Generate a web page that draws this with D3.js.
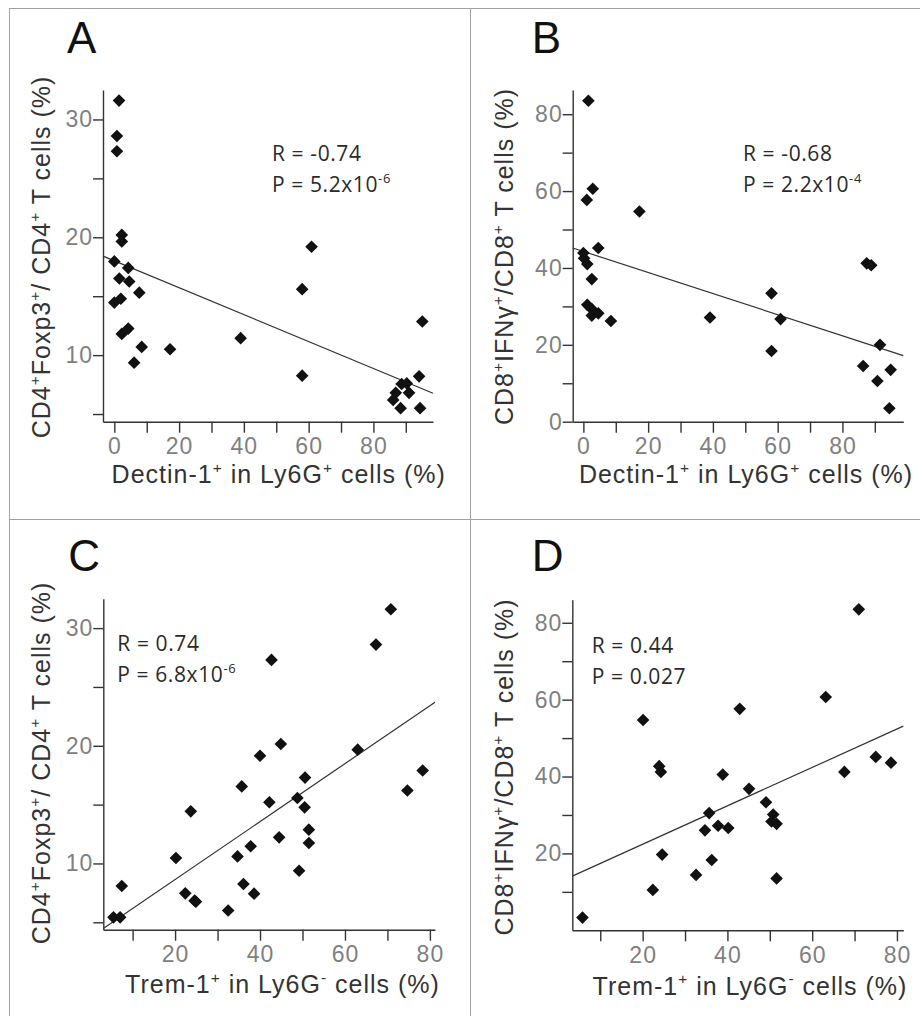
<!DOCTYPE html>
<html>
<head>
<meta charset="utf-8">
<script src="https://cdn.jsdelivr.net/npm/d3@7"></script>
<style>
body { margin: 0; background: #fff; }
svg { display: block; }
</style>
</head>
<body>
<svg width="920" height="1016"></svg>
<script>
// A: Dectin-1+ in Ly6G+ vs Treg
const dectinA = [1.45, 0.8, 0.8, 2.3, 2.3, 0, 4.3, 1.55, 4.6, 7.7, 0, 2.0, 2.3, 4.3, 8.45, 6.1, 17.2, 39.0, 58.0, 60.9, 58.0, 95.1, 94.1, 91.0, 88.7, 90.3, 86.9, 86.1, 88.4, 94.4];
const tregA   = [31.6, 28.6, 27.3, 20.2, 19.65, 17.95, 17.4, 16.5, 16.25, 15.3, 14.46, 14.78, 11.8, 12.25, 10.7, 9.36, 10.5, 11.44, 15.6, 19.2, 8.26, 12.85, 8.2, 6.8, 7.55, 7.6, 6.8, 6.2, 5.5, 5.5];

// B: Dectin-1+ in Ly6G+ vs IFNg+ CD8
const dectinB = [1.55, 2.9, 1.05, 17.3, 4.6, 0, 0.2, 1.2, 2.6, 1.2, 2.6, 2.6, 4.6, 8.5, 39.1, 58.1, 60.9, 58.1, 87.5, 88.9, 91.6, 86.4, 90.8, 94.9, 94.5];
const ifngB   = [83.5, 60.6, 57.7, 54.7, 45.2, 43.9, 42.5, 41.0, 37.1, 30.4, 29.3, 27.6, 28.2, 26.2, 27.1, 33.4, 26.7, 18.4, 41.2, 40.7, 20.0, 14.5, 10.6, 13.5, 3.5];

// C: Trem-1+ in Ly6G- vs Treg
const tremC = [70.8, 67.3, 42.7, 44.9, 63.0, 40.0, 78.3, 74.7, 50.6, 35.7, 42.2, 48.8, 50.5, 23.7, 51.5, 51.5, 44.5, 37.8, 34.7, 20.2, 49.2, 7.45, 36.1, 38.6, 22.4, 24.6, 24.9, 32.5, 5.5, 7.06];
const tregC = [31.6, 28.6, 27.3, 20.15, 19.67, 19.15, 17.9, 16.2, 17.3, 16.55, 15.2, 15.56, 14.77, 14.43, 12.87, 11.74, 12.22, 11.46, 10.6, 10.46, 9.38, 8.08, 8.25, 7.43, 7.46, 6.84, 6.75, 6.0, 5.42, 5.42];

// D: Trem-1+ in Ly6G- vs IFNg+ CD8
const tremD = [71.0, 63.2, 42.9, 20.1, 75.0, 78.6, 23.9, 24.3, 67.6, 38.9, 45.1, 49.1, 50.8, 50.4, 51.6, 35.7, 34.7, 37.8, 40.2, 24.6, 36.3, 32.6, 51.6, 22.4, 5.8];
const ifngD = [83.5, 60.7, 57.6, 54.7, 45.1, 43.6, 42.7, 41.2, 41.2, 40.5, 36.8, 33.3, 30.1, 28.3, 27.7, 30.5, 26.0, 27.2, 26.6, 19.7, 18.3, 14.4, 13.5, 10.5, 3.3];

// regression lines, [intercept, slope]
const fitA = [18.0, -0.1142];
const fitB = [44.3, -0.2742];
const fitC = [3.70, 0.2464];
const fitD = [12.4, 0.4994];

const letters = ["A", "B", "C", "D"];
const rText = ["R = -0.74", "R = -0.68", "R = 0.74", "R = 0.44"];
const pBase = ["P = 5.2x10", "P = 2.2x10", "P = 6.8x10", "P = 0.027"];
const pExp  = ["-6", "-4", "-6", ""];

const ticksX1 = [0, 10, 20, 30, 40, 50, 60, 70, 80, 90];
const ticksX2 = [10, 20, 30, 40, 50, 60, 70, 80];
const ticksTreg = [5, 10, 15, 20, 25, 30];
const ticksIfngB = [0, 10, 20, 30, 40, 50, 60, 70, 80];
const ticksIfngD = [10, 20, 30, 40, 50, 60, 70, 80];

const titleTreg = [["CD4"], ["+", 1], ["Foxp3"], ["+", 1], ["/ CD4"], ["+", 1], [" T cells (%)"]];
const titleIfng = [["CD8"], ["+", 1], ["IFNγ"], ["+", 1], ["/CD8"], ["+", 1], [" T cells (%)"]];
const titleDectin = [["Dectin-1"], ["+", 1], [" in Ly6G"], ["+", 1], [" cells (%)"]];
const titleTrem = [["Trem-1"], ["+", 1], [" in Ly6G"], ["-", 1], [" cells (%)"]];

const svg = d3.select("svg");
const axisFont = "Liberation Sans, Arial, sans-serif";

// frame
svg.append("rect").attr("x", 9.5).attr("y", 8.5).attr("width", 1000).attr("height", 1100)
    .attr("fill", "none").attr("stroke", "#a0a0a0");
svg.append("line").attr("x1", 470.5).attr("x2", 470.5).attr("y1", 8.5).attr("y2", 1016)
    .attr("stroke", "#a0a0a0");
svg.append("line").attr("x1", 9.5).attr("x2", 920).attr("y1", 519.5).attr("y2", 519.5)
    .attr("stroke", "#a0a0a0");

function rich(text, parts, fs) {
    let up = false;
    parts.forEach(function(p) {
        const t = text.append("tspan").text(p[0]);
        if (p[1]) {
            t.attr("font-size", fs * 0.62).attr("dy", up ? 0 : -fs * 0.42);
            up = true;
        } else {
            t.attr("dy", up ? fs * 0.42 : 0);
            up = false;
        }
    });
}

const panels = [
    { xs: dectinA, ys: tregA, fit: fitA, xd: [-3.5, 98.4], yd: [4.35, 32.5], xt: ticksX1, yt: ticksTreg,
      xl: titleDectin, yl: titleTreg, box: [103, 433, 90, 421.7],
      letter: [67, 53], stats: [272, 160.7], xtitle: [278.7, 483.3], ytitle: [50, 257] },
    { xs: dectinB, ys: ifngB, fit: fitB, xd: [-3.3, 98.8], yd: [0, 86.3], xt: ticksX1, yt: ticksIfngB,
      xl: titleDectin, yl: titleIfng, box: [572.7, 903.3, 90, 421.7],
      letter: [531.7, 53.3], stats: [743, 160.7], xtitle: [746, 483.3], ytitle: [513, 256.5] },
    { xs: tremC, ys: tregC, fit: fitC, xd: [3.1, 81.2], yd: [4.37, 32.5], xt: ticksX2, yt: ticksTreg,
      xl: titleTrem, yl: titleTreg, box: [103.3, 435, 598.7, 929.7],
      letter: [68.3, 571.3], stats: [117.3, 651.3], xtitle: [282.5, 993], ytitle: [50, 763] },
    { xs: tremD, ys: ifngD, fit: fitD, xd: [3.4, 81.5], yd: [0, 86], xt: ticksX2, yt: ticksIfngD,
      xl: titleTrem, yl: titleIfng, box: [572.3, 903.3, 599.7, 930.3],
      letter: [531.7, 571.3], stats: [591.7, 653], xtitle: [750, 994.7], ytitle: [513.3, 767] }
];

panels.forEach(function(p, i) {

    const x = d3.scaleLinear().domain(p.xd).range([p.box[0], p.box[1]]);
    const y = d3.scaleLinear().domain(p.yd).range([p.box[3], p.box[2]]);
    const yStep = p.yd[1] > 50 ? 20 : 10;

    const gx = svg.append("g")
        .attr("transform", "translate(0," + p.box[3] + ")")
        .call(d3.axisBottom(x).tickValues(p.xt).tickSize(11).tickPadding(5).tickSizeOuter(0)
            .tickFormat(d => d % 20 === 0 ? d : ""));

    const gy = svg.append("g")
        .attr("transform", "translate(" + p.box[0] + ",0)")
        .call(d3.axisLeft(y).tickValues(p.yt).tickSize(10).tickPadding(0).tickSizeOuter(0)
            .tickFormat(d => d % yStep === 0 ? d : ""));

    [gx, gy].forEach(function(g) {
        g.select(".domain").attr("stroke", "#333").attr("stroke-width", 1.4);
        g.selectAll(".tick line").attr("stroke", "#333").attr("stroke-width", 1.4);
        g.selectAll(".tick text").attr("fill", "#808080").attr("font-size", 23)
            .attr("font-family", axisFont).attr("letter-spacing", 1);
    });

    // fit line
    const line = d3.line().x(d => x(d)).y(d => y(p.fit[0] + p.fit[1] * d));
    svg.append("path").datum(p.xd).attr("d", line)
        .attr("fill", "none").attr("stroke", "#333").attr("stroke-width", 1.2);

    // points
    const sym = d3.symbol().type(d3.symbolSquare).size(80);
    svg.append("g").selectAll("path")
        .data(p.xs.map((v, k) => [v, p.ys[k]]))
        .enter()
        .append("path")
        .attr("d", sym)
        .attr("transform", d => "translate(" + x(d[0]) + "," + y(d[1]) + ") rotate(45)")
        .attr("fill", "#111");

    // panel letter
    svg.append("text").attr("x", p.letter[0]).attr("y", p.letter[1])
        .attr("font-family", axisFont).attr("font-size", 44).attr("fill", "#111")
        .text(letters[i]);

    // stats
    svg.append("text").attr("x", p.stats[0]).attr("y", p.stats[1])
        .attr("font-family", "Open Sans, sans-serif").attr("font-size", 21)
        .attr("letter-spacing", 0.6).attr("fill", "#2a2a2a")
        .text(rText[i]);
    const pt = svg.append("text").attr("x", p.stats[0]).attr("y", p.stats[1] + 31)
        .attr("font-family", "Open Sans, sans-serif").attr("font-size", 21)
        .attr("letter-spacing", 0.6).attr("fill", "#2a2a2a");
    rich(pt, pExp[i] ? [[pBase[i]], [pExp[i], 1]] : [[pBase[i]]], 21);

    // axis titles
    const xt = svg.append("text").attr("x", p.xtitle[0]).attr("y", p.xtitle[1])
        .attr("text-anchor", "middle").attr("font-family", axisFont).attr("font-size", 25)
        .attr("letter-spacing", 1).attr("fill", "#333");
    rich(xt, p.xl, 25);

    const yt = svg.append("text")
        .attr("transform", "translate(" + p.ytitle[0] + "," + p.ytitle[1] + ") rotate(-90)")
        .attr("text-anchor", "middle").attr("font-family", axisFont).attr("font-size", 25)
        .attr("letter-spacing", 1).attr("fill", "#333");
    rich(yt, p.yl, 25);
});
</script>
</body>
</html>
